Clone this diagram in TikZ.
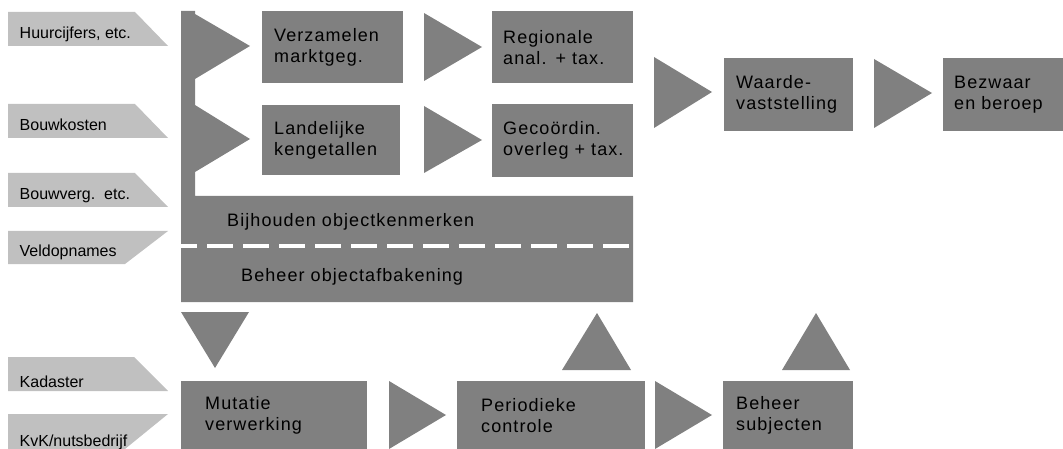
\documentclass[tikz,border=0pt]{standalone}
\usepackage{fontspec}
\setmainfont{Liberation Sans}
\newfontfamily\boxfont[LetterSpace=6]{Liberation Sans}
\definecolor{boxgrey}{HTML}{808080}
\definecolor{taggrey}{HTML}{C0C0C0}
\tikzset{
  stage/.style={fill=boxgrey, anchor=north west, inner xsep=12pt, inner ysep=0pt,
    align=left, text=black, font=\boxfont\fontsize{18}{21}\selectfont},
  bandtext/.style={anchor=base west, inner sep=0pt, text=black,
    font=\boxfont\fontsize{18}{21}\selectfont},
  tagtext/.style={anchor=base west, inner sep=0pt, text=black,
    font=\fontsize{16}{19}\selectfont},
  flow/.style={fill=boxgrey},
  source/.style={fill=taggrey},
}
\begin{document}
\begin{tikzpicture}[x=1pt,y=-1pt]
\useasboundingbox (0,0) rectangle (1063,449);

% input sources (light tags)
\fill[source] (8,12) -- (135,12) -- (168,46) -- (8,46) -- cycle;
\fill[source] (8,104) -- (135,104) -- (168,138) -- (8,138) -- cycle;
\fill[source] (8,173) -- (135,173) -- (168,207) -- (8,207) -- cycle;
\fill[source] (8,231) -- (168,231) -- (125,264) -- (8,264) -- cycle;
\fill[source] (8,357) -- (134,357) -- (168,391) -- (8,391) -- cycle;
\fill[source] (8,414) -- (168,414) -- (125,449) -- (8,449) -- cycle;
\node[tagtext] (huur)  at (19.5,39)  {Huurcijfers, etc.};
\node[tagtext] (bouwk) at (19.5,131) {Bouwkosten};
\node[tagtext] (bouwv) at (19.5,200) {Bouwverg.\ \ etc.};
\node[tagtext] (veld)  at (19.5,257) {Veldopnames};
\node[tagtext] (kad)   at (19.5,387) {Kadaster};
\node[tagtext] (kvk)   at (19.5,446) {KvK/nutsbedrijf};

% object register: bar with two arrows and the two-part band
\fill[flow] (181,11) -- (195,11) -- (195,14) -- (250,46) -- (195,79)
  -- (195,105) -- (250,139) -- (195,172) -- (195,196) -- (633,196)
  -- (633,302) -- (181,302) -- cycle;
\draw[white, line width=3.5pt, dash pattern=on 26pt off 10pt, dash phase=10pt]
  (181,246) -- (633,246);
\node[bandtext] (bijh) at (227,226) {Bijhouden objectkenmerken};
\node[bandtext] (afb)  at (241,281) {Beheer objectafbakening};

% process stages
\node[stage, minimum width=141pt, minimum height=72pt, text width=117pt] (verz) at (262,11) {Verzamelen\\marktgeg.};
\node[stage, minimum width=138pt, minimum height=70pt, text width=114pt] (land) at (262,105) {Landelijke\\kengetallen};
\node[stage, minimum width=141pt, minimum height=72pt, text width=119pt, inner xsep=11pt] (reg) at (492,11) {Regionale\\\mbox{anal. + tax.}};
\node[stage, minimum width=141pt, minimum height=73pt, text width=119pt, inner xsep=11pt] (geco) at (492,104) {Gecoördin.\\\mbox{overleg + tax.}};
\node[stage, minimum width=129pt, minimum height=73pt, text width=105pt] (waarde) at (724,58) {Waarde-\\vaststelling};
\node[stage, minimum width=120pt, minimum height=73pt, text width=98pt, inner xsep=11pt] (bezw) at (943,58) {Bezwaar\\\mbox{en beroep}};
\node[stage, minimum width=186pt, minimum height=68pt, text width=138pt, inner xsep=24pt] (mut) at (181,381) {Mutatie\\verwerking};
\node[stage, minimum width=188pt, minimum height=68pt, text width=140pt, inner xsep=24pt] (per) at (457,381) {Periodieke\\controle};
\node[stage, minimum width=130pt, minimum height=68pt, text width=104pt, inner xsep=13pt] (subj) at (723,381) {Beheer\\subjecten};

% flow arrows
\fill[flow] (424,13) -- (482,47) -- (424,81) -- cycle;
\fill[flow] (424,106) -- (482,140) -- (424,173) -- cycle;
\fill[flow] (654,57) -- (712,92) -- (654,128) -- cycle;
\fill[flow] (874,59) -- (932,93) -- (874,128) -- cycle;
\fill[flow] (389,381) -- (446,415) -- (389,449) -- cycle;
\fill[flow] (655,381) -- (712,415) -- (655,449) -- cycle;
\fill[flow] (181,312) -- (249,312) -- (215,368) -- cycle;
\fill[flow] (562,370) -- (597,313) -- (631,370) -- cycle;
\fill[flow] (782,370) -- (816,313) -- (850,370) -- cycle;
\end{tikzpicture}
\end{document}
